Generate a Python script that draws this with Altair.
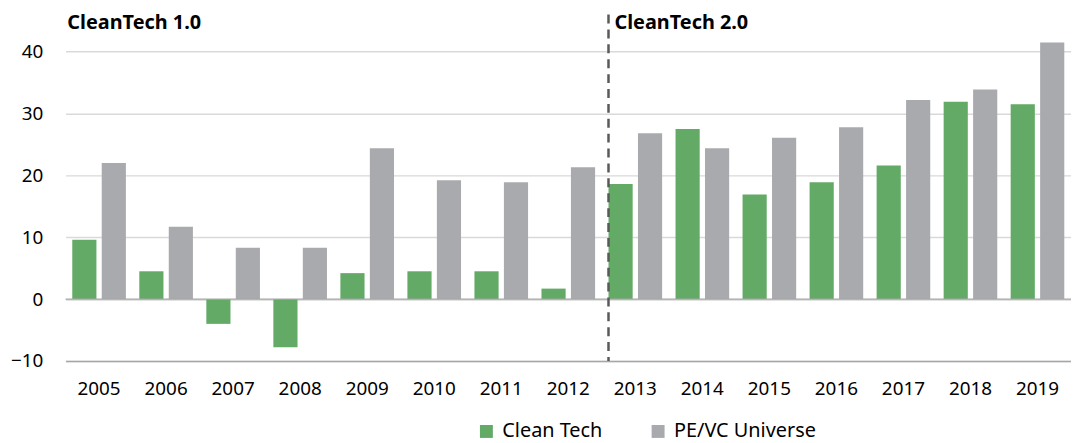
import altair as alt
import pandas as pd

years = [str(y) for y in range(2005, 2020)]
clean_tech = [9.6, 4.5, -4.0, -7.8, 4.2, 4.5, 4.5, 1.7, 18.6, 27.5, 16.9, 18.9, 21.6, 31.9, 31.5]
pevc = [22.0, 11.7, 8.3, 8.3, 24.4, 19.2, 18.9, 21.3, 26.8, 24.4, 26.1, 27.8, 32.2, 33.9, 41.5]
series = ["Clean Tech", "PE/VC Universe"]
colors = ["#63AA66", "#A9AAAD"]
y_ticks = [-10, 0, 10, 20, 30, 40]
periods = ["CleanTech 1.0", "CleanTech 2.0"]
period_starts = ["2005", "2013"]

rows = []
for i, y in enumerate(years):
    rows.append({"year": y, "series": series[0], "value": clean_tech[i]})
    rows.append({"year": y, "series": series[1], "value": pevc[i]})
df = pd.DataFrame(rows)

FONT = "Noto Sans"
W, H = 1013, 349

xaxis = alt.Axis(title=None, labelAngle=0, ticks=False, domain=True,
                 domainColor="#a6a6a6", domainWidth=1.5,
                 labelFontSize=19, labelFont=FONT, labelColor="#000000",
                 labelPadding=19, grid=False)
yaxis = alt.Axis(title=None, values=y_ticks, ticks=False, domain=False,
                 labelFontSize=19, labelFont=FONT, labelColor="#000000",
                 labelPadding=23, gridColor="#d9d9d9", gridWidth=1.5)

xscale = alt.Scale(domain=years, paddingInner=0.2, paddingOuter=0.1)
yscale = alt.Scale(domain=[-10, 46], nice=False, zero=False)

bars = alt.Chart(df).mark_bar().encode(
    x=alt.X("year:N", scale=xscale, sort=years, axis=xaxis),
    xOffset=alt.XOffset("series:N", sort=series,
                        scale=alt.Scale(paddingInner=0.18, paddingOuter=0)),
    y=alt.Y("value:Q", scale=yscale, axis=yaxis),
    color=alt.Color("series:N", sort=series,
                    scale=alt.Scale(domain=series, range=colors),
                    legend=alt.Legend(title=None, orient="none", direction="horizontal",
                                      legendX=414, legendY=410,
                                      symbolType="square", symbolSize=170,
                                      symbolStrokeWidth=0,
                                      labelFontSize=20, labelFont=FONT, labelColor="#000000",
                                      columnPadding=46, labelOffset=6)),
)

zero = alt.Chart(pd.DataFrame({"v": [0]})).mark_rule(color="#a6a6a6", strokeWidth=1.5).encode(
    y=alt.Y("v:Q", scale=yscale, axis=yaxis)
)

div_df = pd.DataFrame({"year": [period_starts[1]]})
divider = alt.Chart(div_df).mark_rule(color="#595959", strokeWidth=2.5, strokeDash=[9, 6]).encode(
    x=alt.X("year:N", scale=xscale, sort=years, bandPosition=0, axis=xaxis),
    y=alt.value(0),
    y2=alt.value(H),
)

lab1 = alt.Chart(pd.DataFrame({"year": [period_starts[0]], "t": [periods[0]]})).mark_text(
    align="left", baseline="middle", fontSize=20, fontWeight="bold", font=FONT, color="#000000",
    dx=-5
).encode(
    x=alt.X("year:N", scale=xscale, sort=years, bandPosition=0, axis=xaxis),
    y=alt.value(9),
    text="t:N",
)
lab2 = alt.Chart(pd.DataFrame({"year": [period_starts[1]], "t": [periods[1]]})).mark_text(
    align="left", baseline="middle", fontSize=20, fontWeight="bold", font=FONT, color="#000000",
    dx=6
).encode(
    x=alt.X("year:N", scale=xscale, sort=years, bandPosition=0, axis=xaxis),
    y=alt.value(9),
    text="t:N",
)

chart = alt.layer(bars, zero, divider, lab1, lab2).properties(
    width=W, height=H,
    background="#ffffff",
    autosize=alt.AutoSizeParams(type="none"),
    padding={"left": 58, "top": 5, "right": 0, "bottom": 81},
).configure_view(stroke=None)

chart.save("out.html", embed_options={"renderer": "svg", "actions": False})
